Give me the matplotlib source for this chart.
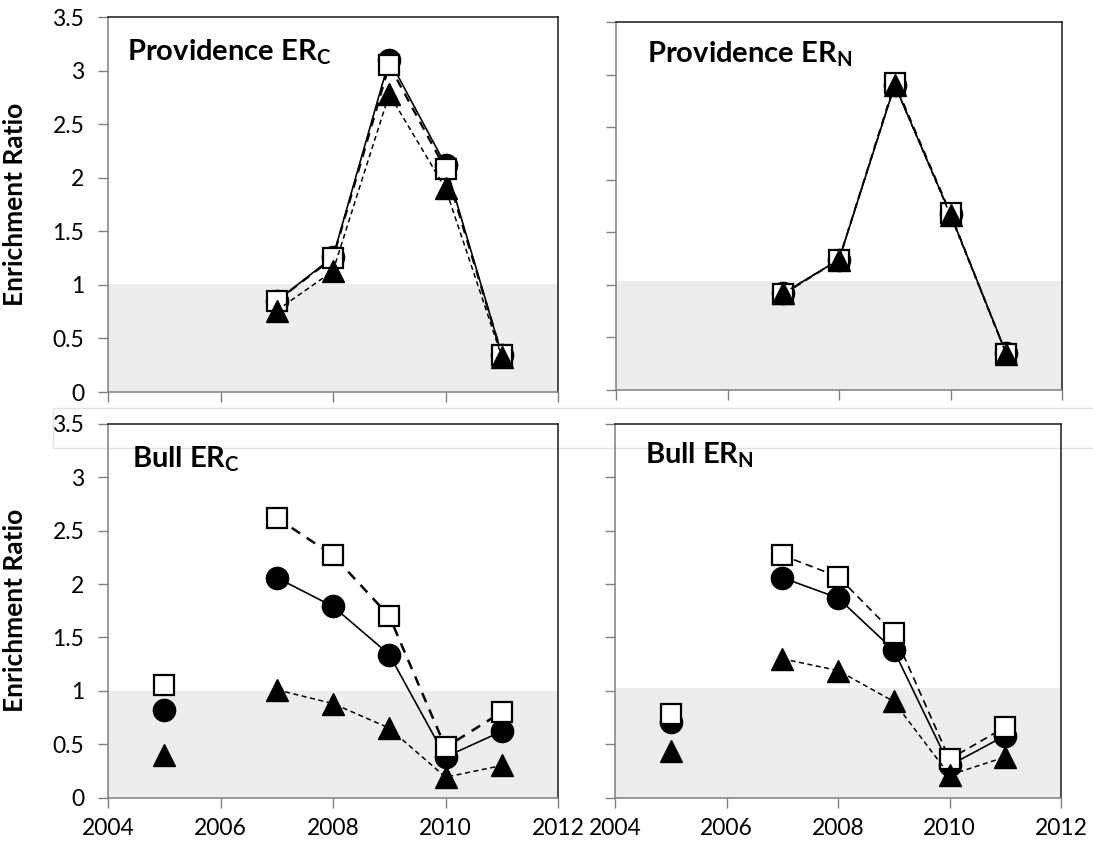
import numpy as np
import matplotlib
matplotlib.use("Agg")
import matplotlib.pyplot as plt
from matplotlib.patches import Rectangle

plt.rcParams["font.family"] = ["Lato", "DejaVu Sans"]
plt.rcParams["mathtext.fontset"] = "custom"
plt.rcParams["mathtext.rm"] = "Lato"
plt.rcParams["mathtext.bf"] = "Lato:bold"

# ---- data -------------------------------------------------------------
years = [2005, 2006, 2007, 2008, 2009, 2010, 2011]
nan = np.nan

prov_erc_circle = [nan, nan, 0.85, 1.26, 3.10, 2.12, 0.35]
prov_erc_square = [nan, nan, 0.85, 1.25, 3.05, 2.08, 0.35]
prov_erc_tri    = [nan, nan, 0.76, 1.13, 2.78, 1.90, 0.33]

prov_ern_circle = [nan, nan, 0.92, 1.24, 2.90, 1.67, 0.35]
prov_ern_square = [nan, nan, 0.91, 1.24, 2.92, 1.68, 0.34]
prov_ern_tri    = [nan, nan, 0.92, 1.24, 2.90, 1.66, 0.34]

bull_erc_circle = [0.82, nan, 2.06, 1.79, 1.34, 0.38, 0.62]
bull_erc_square = [1.05, nan, 2.62, 2.27, 1.70, 0.47, 0.80]
bull_erc_tri    = [0.40, nan, 1.01, 0.88, 0.65, 0.19, 0.30]

bull_ern_circle = [0.71, nan, 2.06, 1.87, 1.38, 0.30, 0.58]
bull_ern_square = [0.78, nan, 2.27, 2.07, 1.54, 0.36, 0.66]
bull_ern_tri    = [0.44, nan, 1.30, 1.19, 0.90, 0.21, 0.38]

panel_titles = [("Providence ER", "C"), ("Providence ER", "N"),
                ("Bull ER", "C"), ("Bull ER", "N")]
shade_top = [1.01, 1.04, 1.0, 1.025]

x_ticks = [2004, 2006, 2008, 2010, 2012]
y_ticks = [0, 0.5, 1, 1.5, 2, 2.5, 3, 3.5]
y_label = "Enrichment Ratio"

panels = [
    (prov_erc_circle, prov_erc_square, prov_erc_tri),
    (prov_ern_circle, prov_ern_square, prov_ern_tri),
    (bull_erc_circle, bull_erc_square, bull_erc_tri),
    (bull_ern_circle, bull_ern_square, bull_ern_tri),
]

# ---- layout -----------------------------------------------------------
W, H = 1093, 843
fig = plt.figure(figsize=(W / 100, H / 100), dpi=100)

def rect(l, t, r, b):
    return [l / W, 1 - b / H, (r - l) / W, (b - t) / H]

boxes = [rect(108, 17, 558, 392), rect(616, 22, 1062, 390),
         rect(108, 424, 558, 797.5), rect(615, 424, 1061, 797.5)]
title_offsets = [(19, 43), (31, 40), (24, 43), (30, 39)]
square_dash = [(0, (4, 3.2)), (0, (4, 3.2)), (0, (4, 3.2)), (0, (4.5, 3))]
square_lw = [1.6, 1.3, 1.8, 1.2]
tri_dash = (0, (3.3, 2.3))

for i, (box, (circ, sq, tri)) in enumerate(zip(boxes, panels)):
    ax = fig.add_axes(box)
    ax.patch.set_alpha(0)
    ax.set_xlim(2004, 2012)
    ax.set_ylim(0, 3.5)
    ax.axhspan(0, shade_top[i], color="#ededed", zorder=0, lw=0)

    ax.plot(years, circ, color="black", lw=1.2, marker="o", ms=16,
            mfc="black", mec="black", zorder=3)
    ax.plot(years, sq, color="black", lw=square_lw[i], ls=square_dash[i],
            marker="s", ms=14.5, mfc="white", mec="black", mew=1.6, zorder=4)
    ax.plot(years, tri, color="black", lw=1.1, ls=tri_dash, marker="^",
            ms=16, mfc="black", mec="black", zorder=5)

    ax.set_xticks(x_ticks)
    ax.set_yticks(y_ticks)
    ax.tick_params(axis="both", direction="out", length=7, width=1,
                   color="#808080", labelsize=16.5)
    ax.tick_params(axis="y", pad=10)
    ax.tick_params(axis="x", pad=8)
    if i in (0, 2):
        ax.set_yticklabels([f"{v:g}" for v in y_ticks])
        ax.set_ylabel(y_label, fontsize=19, fontweight="bold")
        ax.yaxis.set_label_coords(-(box[0] * W - 27) / (box[2] * W), 0.5)
    else:
        ax.set_yticklabels([])
    if i in (2, 3):
        ax.set_xticklabels([str(v) for v in x_ticks])
    else:
        ax.set_xticklabels([])

    for side in ("left", "bottom"):
        ax.spines[side].set_color("#7f7f7f")
        ax.spines[side].set_linewidth(1.1)
    for side in ("top", "right"):
        ax.spines[side].set_color("#1a1a1a")
        ax.spines[side].set_linewidth(1.1)

    name, sub = panel_titles[i]
    dx, dy = title_offsets[i]
    ax.text(dx / (box[2] * W), 1 - dy / (box[3] * H),
            name + r"$_{\mathbf{" + sub + "}}$",
            transform=ax.transAxes, fontsize=21, fontweight="bold",
            ha="left", va="baseline")

# faint frame between the two rows
fig.patches.append(Rectangle((53 / W, 1 - 448 / H), 1.2, 40 / H,
                             transform=fig.transFigure, fill=False,
                             edgecolor="#e2e2e2", lw=1, zorder=-1))

fig.savefig("out.png", dpi=100)
